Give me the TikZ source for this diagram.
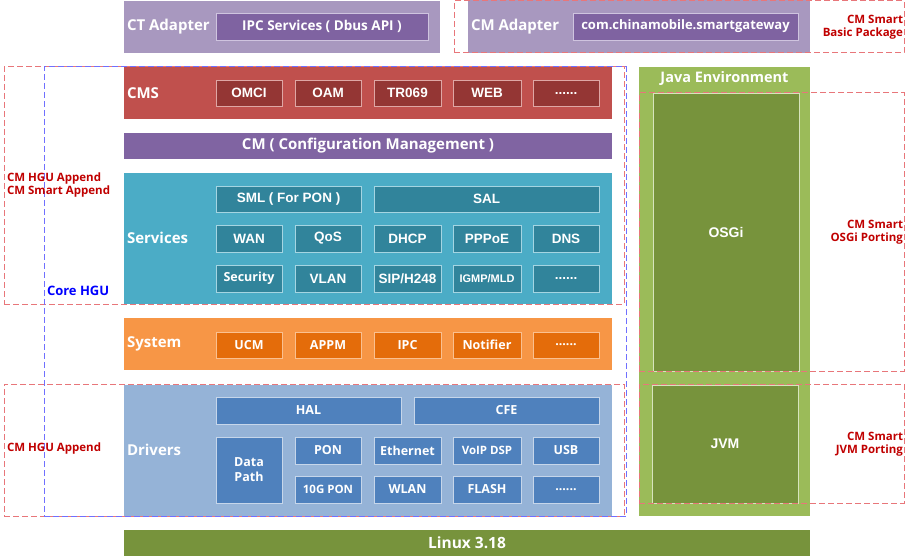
\documentclass[tikz,border=0pt]{standalone}
\usepackage{fontspec}
\setmainfont{Open Sans}
\newfontfamily\arl{Liberation Sans}
\definecolor{adpout}{HTML}{A898BF}
\definecolor{adpin}{HTML}{7F63A1}
\definecolor{adpbd}{HTML}{CFC4DF}
\definecolor{cmsout}{HTML}{C0504D}
\definecolor{cmsin}{HTML}{943634}
\definecolor{cmsbd}{HTML}{DFA7A5}
\definecolor{cmbar}{HTML}{8064A2}
\definecolor{svout}{HTML}{4BACC6}
\definecolor{svin}{HTML}{31849B}
\definecolor{svbd}{HTML}{A5D5E2}
\definecolor{syout}{HTML}{F79646}
\definecolor{syin}{HTML}{E46C0A}
\definecolor{sybd}{HTML}{FAC090}
\definecolor{drout}{HTML}{95B3D7}
\definecolor{drin}{HTML}{4F81BD}
\definecolor{drbd}{HTML}{C6D6EA}
\definecolor{javout}{HTML}{9BBB59}
\definecolor{javin}{HTML}{77933C}
\definecolor{javbd}{HTML}{D7E4BD}
\definecolor{reddash}{HTML}{E8767A}
\definecolor{redtxt}{HTML}{C00000}
\definecolor{bluedash}{HTML}{7070FF}
\newcommand\bx[7]{\node[#6, minimum width={#4-#2}, minimum height={#5-#3}] (#1) at ({(#2+#4)/2},{(#3+#5)/2}) {#7};}
\begin{document}
\begin{tikzpicture}[x=1pt,y=-1pt,
  every node/.style={inner sep=0pt, outer sep=0pt},
  outer/.style={fill=#1, draw=none},
  inbox/.style 2 args={fill=#1, draw=#2, line width=0.9pt, text=white, align=center},
  fyh/.style={font=\fontsize{12.5}{14}\selectfont\bfseries},
  far/.style={font=\arl\fontsize{13.5}{15}\selectfont\bfseries},
  head/.style={text=white, anchor=west, font=\fontsize{15}{17}\selectfont\bfseries},
  redlab/.style={text=redtxt, align=left, font=\fontsize{11.5}{13.5}\selectfont\bfseries},
  redbox/.style={draw=reddash, line width=1pt, dash pattern=on 6pt off 3pt},
  bluebox/.style={draw=bluedash, line width=1pt, dash pattern=on 6pt off 3pt}]
\useasboundingbox (0,0) rectangle (908,559);
% ---- adapters
\bx{ct}{124}{1}{440}{53}{outer=adpout}{}
\node[head] (ctl) at (127,27) {CT Adapter};
\bx{ipc}{216}{13}{428}{40}{inbox={adpin}{adpbd},font=\fontsize{13.5}{15}\selectfont\bfseries}{IPC Services ( Dbus API )}
\bx{cm}{468}{0}{810}{53}{outer=adpout}{}
\node[head] (cml) at (471,27) {CM Adapter};
\bx{cmg}{573}{13}{798}{40}{inbox={adpin}{adpbd},font=\fontsize{13}{15}\selectfont\bfseries}{com.chinamobile.smartgateway}
% ---- CMS
\bx{cms}{124}{67}{612}{119}{outer=cmsout}{}
\node[head] (cmsl) at (127,93) {CMS};
\bx{omci}{216}{80}{282}{106}{inbox={cmsin}{cmsbd},far}{OMCI}
\bx{oam}{295}{80}{361}{106}{inbox={cmsin}{cmsbd},far}{OAM}
\bx{tr}{374}{80}{441}{106}{inbox={cmsin}{cmsbd},far}{TR069}
\bx{web}{453}{80}{521}{106}{inbox={cmsin}{cmsbd},far}{WEB}
\bx{cmsd}{533}{80}{599}{106}{inbox={cmsin}{cmsbd},far}{......}
% ---- CM bar
\bx{cmb}{124}{133}{612}{159}{outer=cmbar,text=white,font=\fontsize{15}{17}\selectfont\bfseries}{CM ( Configuration Management )}
% ---- Services
\bx{sv}{124}{173}{612}{304}{outer=svout}{}
\node[head] (svl) at (127,238) {Services};
\bx{sml}{216}{186}{361}{212}{inbox={svin}{svbd},far}{SML ( For PON )}
\bx{sal}{374}{186}{599}{212}{inbox={svin}{svbd},far}{SAL}
\bx{wan}{216}{225}{282}{252}{inbox={svin}{svbd},far}{WAN}
\bx{qos}{295}{225}{361}{252}{inbox={svin}{svbd},far}{QoS}
\bx{dhcp}{374}{225}{441}{252}{inbox={svin}{svbd},far}{DHCP}
\bx{pppoe}{453}{225}{521}{252}{inbox={svin}{svbd},far}{PPPoE}
\bx{dns}{533}{225}{599}{252}{inbox={svin}{svbd},far}{DNS}
\bx{sec}{216}{265}{282}{292}{inbox={svin}{svbd},fyh}{Security}
\bx{vlan}{295}{265}{361}{292}{inbox={svin}{svbd},far}{VLAN}
\bx{sip}{374}{265}{441}{292}{inbox={svin}{svbd},far}{SIP/H248}
\bx{igmp}{453}{265}{521}{292}{inbox={svin}{svbd},font=\arl\fontsize{11}{13}\selectfont\bfseries}{IGMP/MLD}
\bx{svd}{533}{265}{599}{292}{inbox={svin}{svbd},far}{......}
% ---- System
\bx{sy}{124}{318}{612}{370}{outer=syout}{}
\node[head] (syl) at (127,344) {System};
\bx{ucm}{216}{332}{282}{358}{inbox={syin}{sybd},fyh}{UCM}
\bx{appm}{295}{332}{361}{358}{inbox={syin}{sybd},fyh}{APPM}
\bx{ipc2}{374}{332}{441}{358}{inbox={syin}{sybd},fyh}{IPC}
\bx{notif}{453}{332}{521}{358}{inbox={syin}{sybd},fyh}{Notifier}
\bx{syd}{533}{332}{599}{358}{inbox={syin}{sybd},fyh}{......}
% ---- Drivers
\bx{dr}{124}{385}{612}{516}{outer=drout}{}
\node[head] (drl) at (127,450) {Drivers};
\bx{hal}{216}{397}{401}{424}{inbox={drin}{drbd},fyh}{HAL}
\bx{cfe}{414}{397}{599}{424}{inbox={drin}{drbd},fyh}{CFE}
\bx{dp}{216}{437}{282}{503}{inbox={drin}{drbd},font=\fontsize{12.5}{15}\selectfont\bfseries}{Data\\Path}
\bx{pon}{295}{437}{361}{464}{inbox={drin}{drbd},fyh}{PON}
\bx{eth}{374}{437}{441}{464}{inbox={drin}{drbd},fyh}{Ethernet}
\bx{voip}{453}{437}{521}{464}{inbox={drin}{drbd},font=\fontsize{11.5}{13}\selectfont\bfseries}{VoIP DSP}
\bx{usb}{533}{437}{599}{464}{inbox={drin}{drbd},fyh}{USB}
\bx{tgpon}{295}{476}{361}{503}{inbox={drin}{drbd},font=\fontsize{11.5}{13}\selectfont\bfseries}{10G PON}
\bx{wlan}{374}{476}{441}{503}{inbox={drin}{drbd},fyh}{WLAN}
\bx{flash}{453}{476}{521}{503}{inbox={drin}{drbd},fyh}{FLASH}
\bx{drd}{533}{476}{599}{503}{inbox={drin}{drbd},fyh}{......}
% ---- Linux
\bx{linux}{124}{530}{810}{556}{outer=javin,text=white,font=\fontsize{15.5}{17}\selectfont\bfseries}{Linux 3.18}
% ---- Java
\bx{java}{639}{67}{810}{516}{outer=javout}{}
\node[text=white,font=\fontsize{14.5}{16}\selectfont\bfseries] (javal) at (724.5,79) {Java Environment};
\bx{osgi}{653}{93}{799}{371}{inbox={javin}{javbd},font=\arl\fontsize{14}{16}\selectfont\bfseries}{OSGi}
\bx{jvm}{652}{385}{798}{503}{inbox={javin}{javbd},font=\arl\fontsize{14}{16}\selectfont\bfseries}{JVM}
% ---- dashed regions
\bx{rbasic}{454}{1}{904}{53}{redbox}{}
\bx{rhgu1}{4}{67}{624}{304}{redbox}{}
\bx{rhgu2}{4}{384}{624}{516}{redbox}{}
\bx{rosgi}{639}{93}{904}{371}{redbox}{}
\bx{rjvm}{639}{384}{904}{503}{redbox}{}
\bx{core}{44}{67}{626}{516}{bluebox}{}
% ---- labels
\node[redlab,align=right,anchor=east] (lbasic) at (903,27) {CM Smart\\Basic Package};
\node[redlab,anchor=west] (lhgu1) at (7,185) {CM HGU Append\\CM Smart Append};
\node[text=blue,anchor=west,font=\fontsize{13}{15}\selectfont\bfseries] (lcore) at (47,291) {Core HGU};
\node[redlab,anchor=west] (lhgu2) at (7,449) {CM HGU Append};
\node[redlab,align=right,anchor=east] (losgi) at (903,232) {CM Smart\\OSGi Porting};
\node[redlab,align=right,anchor=east] (ljvm) at (903,444) {CM Smart\\JVM Porting};
\end{tikzpicture}
\end{document}
